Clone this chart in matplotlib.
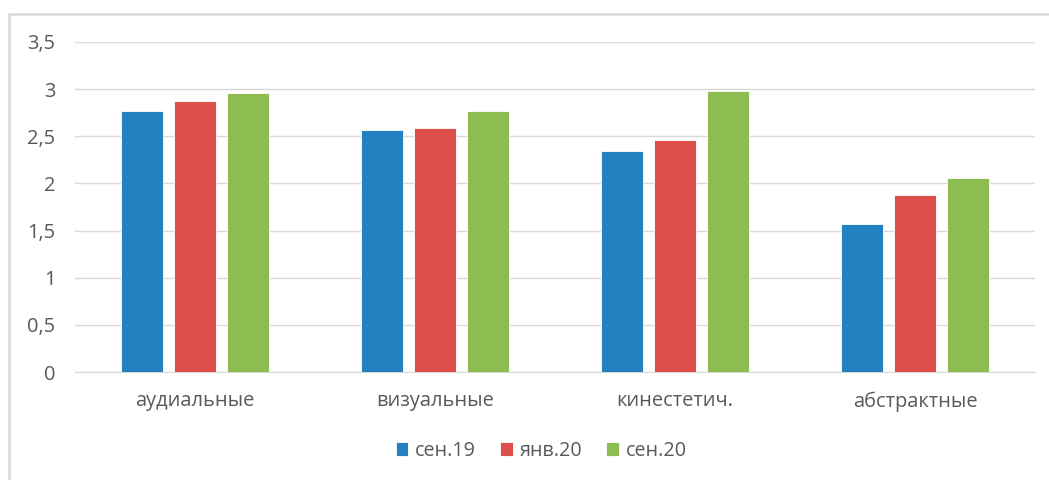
import matplotlib
matplotlib.use('Agg')
import matplotlib.pyplot as plt
import numpy as np
from matplotlib.patches import Rectangle

categories = ['аудиальные', 'визуальные', 'кинестетич.', 'абстрактные']
series_names = ['сен.19', 'янв.20', 'сен.20']
sen19 = [2.77, 2.57, 2.34, 1.57]
jan20 = [2.87, 2.59, 2.46, 1.88]
sen20 = [2.96, 2.77, 2.98, 2.06]
colors = ['#2481c1', '#de4e4b', '#8dbd51']
yticks = [0, 0.5, 1, 1.5, 2, 2.5, 3, 3.5]
ytick_labels = ['0', '0,5', '1', '1,5', '2', '2,5', '3', '3,5']

plt.rcParams['font.family'] = ['Open Sans', 'DejaVu Sans']

W, H = 1049, 480
fig = plt.figure(figsize=(W / 100, H / 100), dpi=100)
ax = fig.add_axes([75 / W, 1 - 372 / H, 960 / W, 330 / H])

# outer chart frame (cropped at right and bottom)
fig.patches.append(Rectangle((9 / W, -0.1), 1.2, 1 - 14 / H + 0.1,
                             transform=fig.transFigure, fill=False,
                             edgecolor='#d9d9d9', linewidth=1.8))

x = np.arange(len(categories))
width = 0.175
step = 0.221
for i, (vals, name) in enumerate(zip([sen19, jan20, sen20], series_names)):
    ax.bar(x + (i - 1) * step, vals, width, color=colors[i], label=name,
           edgecolor='white', linewidth=0.6, zorder=3)

ax.set_xlim(-0.5, 3.5)
ax.set_ylim(0, 3.5)
ax.set_yticks(yticks)
ax.set_yticklabels(ytick_labels)
ax.set_xticks(x)
ax.set_xticklabels(categories)
ax.yaxis.grid(True, color='#d9d9d9', linewidth=1, zorder=0)
for s in ['top', 'right', 'left']:
    ax.spines[s].set_visible(False)
ax.spines['bottom'].set_color('#d9d9d9')
ax.tick_params(axis='both', length=0, labelsize=14.4, colors='#595959')
ax.tick_params(axis='y', pad=14)
ax.tick_params(axis='x', pad=14)

leg = fig.legend(loc='center', bbox_to_anchor=(541 / W, 1 - 451 / H), ncol=3,
                 frameon=False, fontsize=14.2, handlelength=0.65, handleheight=0.65,
                 handletextpad=0.35, columnspacing=1.2)
for t in leg.get_texts():
    t.set_color('#595959')

fig.savefig('out.png', dpi=100)
